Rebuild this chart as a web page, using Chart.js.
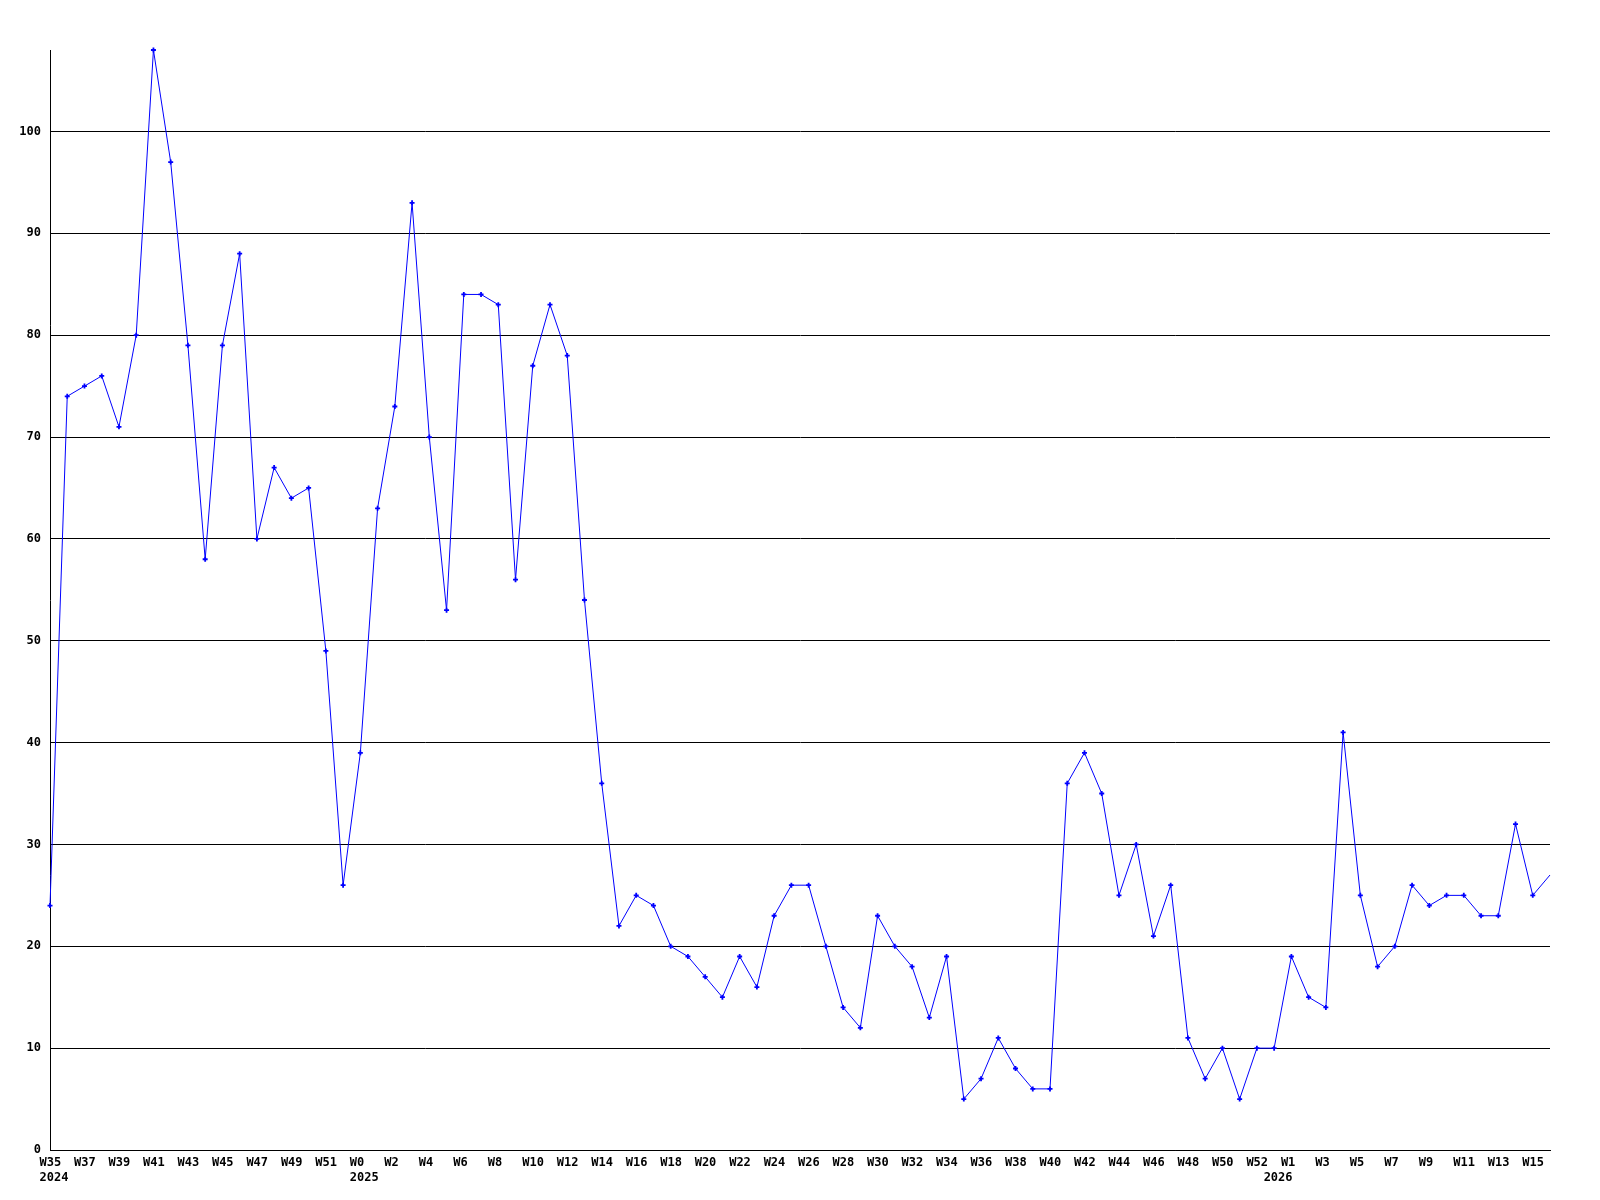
<!DOCTYPE html>
<html>
<head>
<meta charset="utf-8">
<script src="https://cdn.jsdelivr.net/npm/chart.js@4"></script>
<style>
  html, body { margin: 0; padding: 0; background: #ffffff; }
  #wrap { width: 1600px; height: 1200px; }
</style>
</head>
<body>
<div id="wrap"><canvas id="c" width="1600" height="1200"></canvas></div>
<script>
// Week categories per year
const weeks2024 = ['W35','W36','W37','W38','W39','W40','W41','W42','W43','W44','W45','W46','W47','W48','W49','W50','W51','W52'];
const weeks2025 = ['W0','W1','W2','W3','W4','W5','W6','W7','W8','W9','W10','W11','W12','W13','W14','W15','W16','W17','W18','W19','W20','W21','W22','W23','W24','W25','W26','W27','W28','W29','W30','W31','W32','W33','W34','W35','W36','W37','W38','W39','W40','W41','W42','W43','W44','W45','W46','W47','W48','W49','W50','W51','W52'];
const weeks2026 = ['W0','W1','W2','W3','W4','W5','W6','W7','W8','W9','W10','W11','W12','W13','W14','W15','W16'];

// Series values per year
const values2024 = [24,74,75,76,71,80,108,97,79,58,79,88,60,67,64,65,49,26];
const values2025 = [39,63,73,93,70,53,84,84,83,56,77,83,78,54,36,22,25,24,20,19,17,15,19,16,23,26,26,20,14,12,23,20,18,13,19,5,7,11,8,6,6,36,39,35,25,30,21,26,11,7,10,5,10];
const values2026 = [10,19,15,14,41,25,18,20,26,24,25,25,23,23,32,25,27];

// Y tick values
const yTicks = [0,10,20,30,40,50,60,70,80,90,100];
const yMax = 108;

const yearGroups = [
  { year: '2024', weeks: weeks2024, values: values2024 },
  { year: '2025', weeks: weeks2025, values: values2025 },
  { year: '2026', weeks: weeks2026, values: values2026 }
];

const labels = [];
const yearOfIndex = [];
const values = [];
yearGroups.forEach(g => {
  g.weeks.forEach((w, i) => {
    labels.push(w);
    yearOfIndex.push(i === 0 ? g.year : '');
    values.push(g.values[i]);
  });
});
const lastIndex = values.length - 1;

const FONT = { family: "'DejaVu Sans Mono', 'Liberation Mono', monospace", size: 12, weight: 'bold', lineHeight: 1.25 };

new Chart(document.getElementById('c'), {
  type: 'line',
  data: {
    labels: labels,
    datasets: [{
      data: values,
      borderColor: '#0000ff',
      backgroundColor: '#0000ff',
      borderWidth: 1,
      tension: 0,
      fill: false,
      clip: false,
      pointStyle: 'cross',
      pointRadius: ctx => (ctx.dataIndex === lastIndex ? 0 : 2.5),
      pointBorderWidth: 1.8,
      pointBorderColor: '#0000ff',
      pointBackgroundColor: '#0000ff'
    }]
  },
  options: {
    responsive: false,
    animation: false,
    devicePixelRatio: 1,
    layout: { padding: { left: 0, right: 50, top: 50, bottom: 0 } },
    plugins: { legend: { display: false }, tooltip: { enabled: false }, title: { display: false } },
    scales: {
      x: {
        type: 'category',
        offset: false,
        grid: { display: true, drawOnChartArea: false, drawTicks: false },
        border: { display: true, color: '#000000', width: 1 },
        ticks: {
          autoSkip: false,
          maxRotation: 0,
          minRotation: 0,
          align: 'start',
          labelOffset: -10.5,
          padding: 5,
          color: '#000000',
          font: FONT,
          callback: function(value, index) {
            const wk = index % 2 === 0 ? labels[index] : '';
            const yr = yearOfIndex[index];
            return yr ? [wk, yr] : wk;
          }
        },
        afterFit: s => { s.height = 50; }
      },
      y: {
        min: 0,
        max: yMax,
        grid: {
          color: '#000000',
          lineWidth: 1,
          drawTicks: false
        },
        border: { display: true, color: '#000000', width: 1 },
        ticks: {
          padding: 9,
          color: '#000000',
          font: FONT
        },
        afterBuildTicks: axis => { axis.ticks = yTicks.map(v => ({ value: v })); },
        afterFit: s => { s.width = 50; }
      }
    }
  }
});
</script>
</body>
</html>
